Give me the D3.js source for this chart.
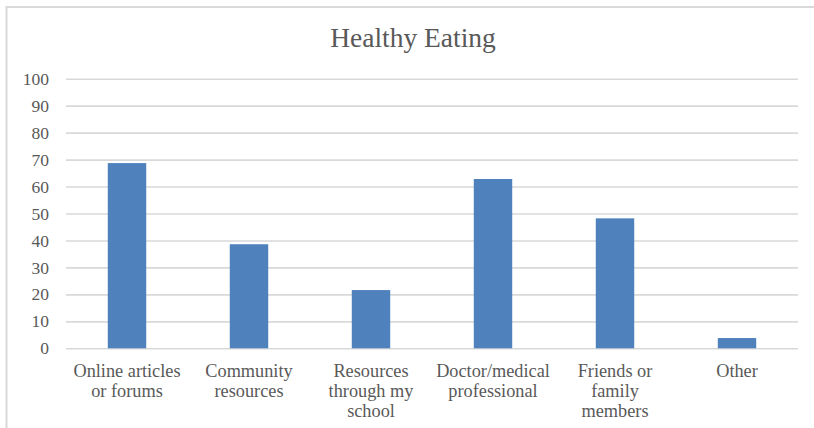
<!DOCTYPE html>
<html>
<head>
<meta charset="utf-8">
<script src="https://cdn.jsdelivr.net/npm/d3@7"></script>
<style>
  html, body { margin: 0; padding: 0; background: #fff; }
  svg { display: block; }
</style>
</head>
<body>
<svg id="chart" width="814" height="428"></svg>
<script>
const title = "Healthy Eating";
const categories = [
  ["Online articles", "or forums"],
  ["Community", "resources"],
  ["Resources", "through my", "school"],
  ["Doctor/medical", "professional"],
  ["Friends or", "family", "members"],
  ["Other"]
];
const values = [68.7, 38.6, 21.6, 62.8, 48.2, 3.8];
const yTicks = [0, 10, 20, 30, 40, 50, 60, 70, 80, 90, 100];

const W = 814, H = 428;
const margin = { left: 66, right: 16, top: 78.7, bottom: 79.7 };
const svg = d3.select("#chart");
const font = "'Liberation Serif', 'DejaVu Serif', serif";
const textColor = "#595959";

// chart frame (cropped at right/bottom)
svg.append("rect")
  .attr("x", 6.5).attr("y", 7).attr("width", 820).attr("height", 440)
  .attr("fill", "#fff").attr("stroke", "#d9d9d9").attr("stroke-width", 2);

const x = d3.scaleBand()
  .domain(d3.range(categories.length))
  .range([margin.left, W - margin.right])
  .paddingInner(0.685).paddingOuter(0.3425);

const y = d3.scaleLinear()
  .domain([0, 100])
  .range([H - margin.bottom, margin.top]);

// gridlines
const yAxis = d3.axisLeft(y).tickValues(yTicks).tickSize(-(W - margin.right - margin.left)).tickPadding(17);
const gy = svg.append("g").attr("transform", `translate(${margin.left},0)`).call(yAxis);
gy.select(".domain").remove();
gy.selectAll(".tick line").attr("stroke", "#d9d9d9").attr("stroke-width", 1.6);
gy.selectAll(".tick text")
  .attr("font-family", font).attr("font-size", 17.5).attr("fill", textColor);

// bars
svg.append("g").selectAll("rect").data(values).join("rect")
  .attr("x", (d, i) => x(i))
  .attr("width", x.bandwidth())
  .attr("y", d => y(d))
  .attr("height", d => y(0) - y(d))
  .attr("fill", "#4f81bd");

// category labels
const xl = svg.append("g");
categories.forEach((lines, i) => {
  const t = xl.append("text")
    .attr("x", x(i) + x.bandwidth() / 2)
    .attr("y", 377)
    .attr("text-anchor", "middle")
    .attr("font-family", font).attr("font-size", 18.3).attr("fill", textColor);
  lines.forEach((ln, j) => {
    t.append("tspan").attr("x", x(i) + x.bandwidth() / 2).attr("dy", j === 0 ? 0 : 20).text(ln);
  });
});

// title
svg.append("text")
  .attr("x", 413).attr("y", 47)
  .attr("text-anchor", "middle")
  .attr("font-family", font).attr("font-size", 27.5).attr("fill", textColor)
  .text(title);
</script>
</body>
</html>
